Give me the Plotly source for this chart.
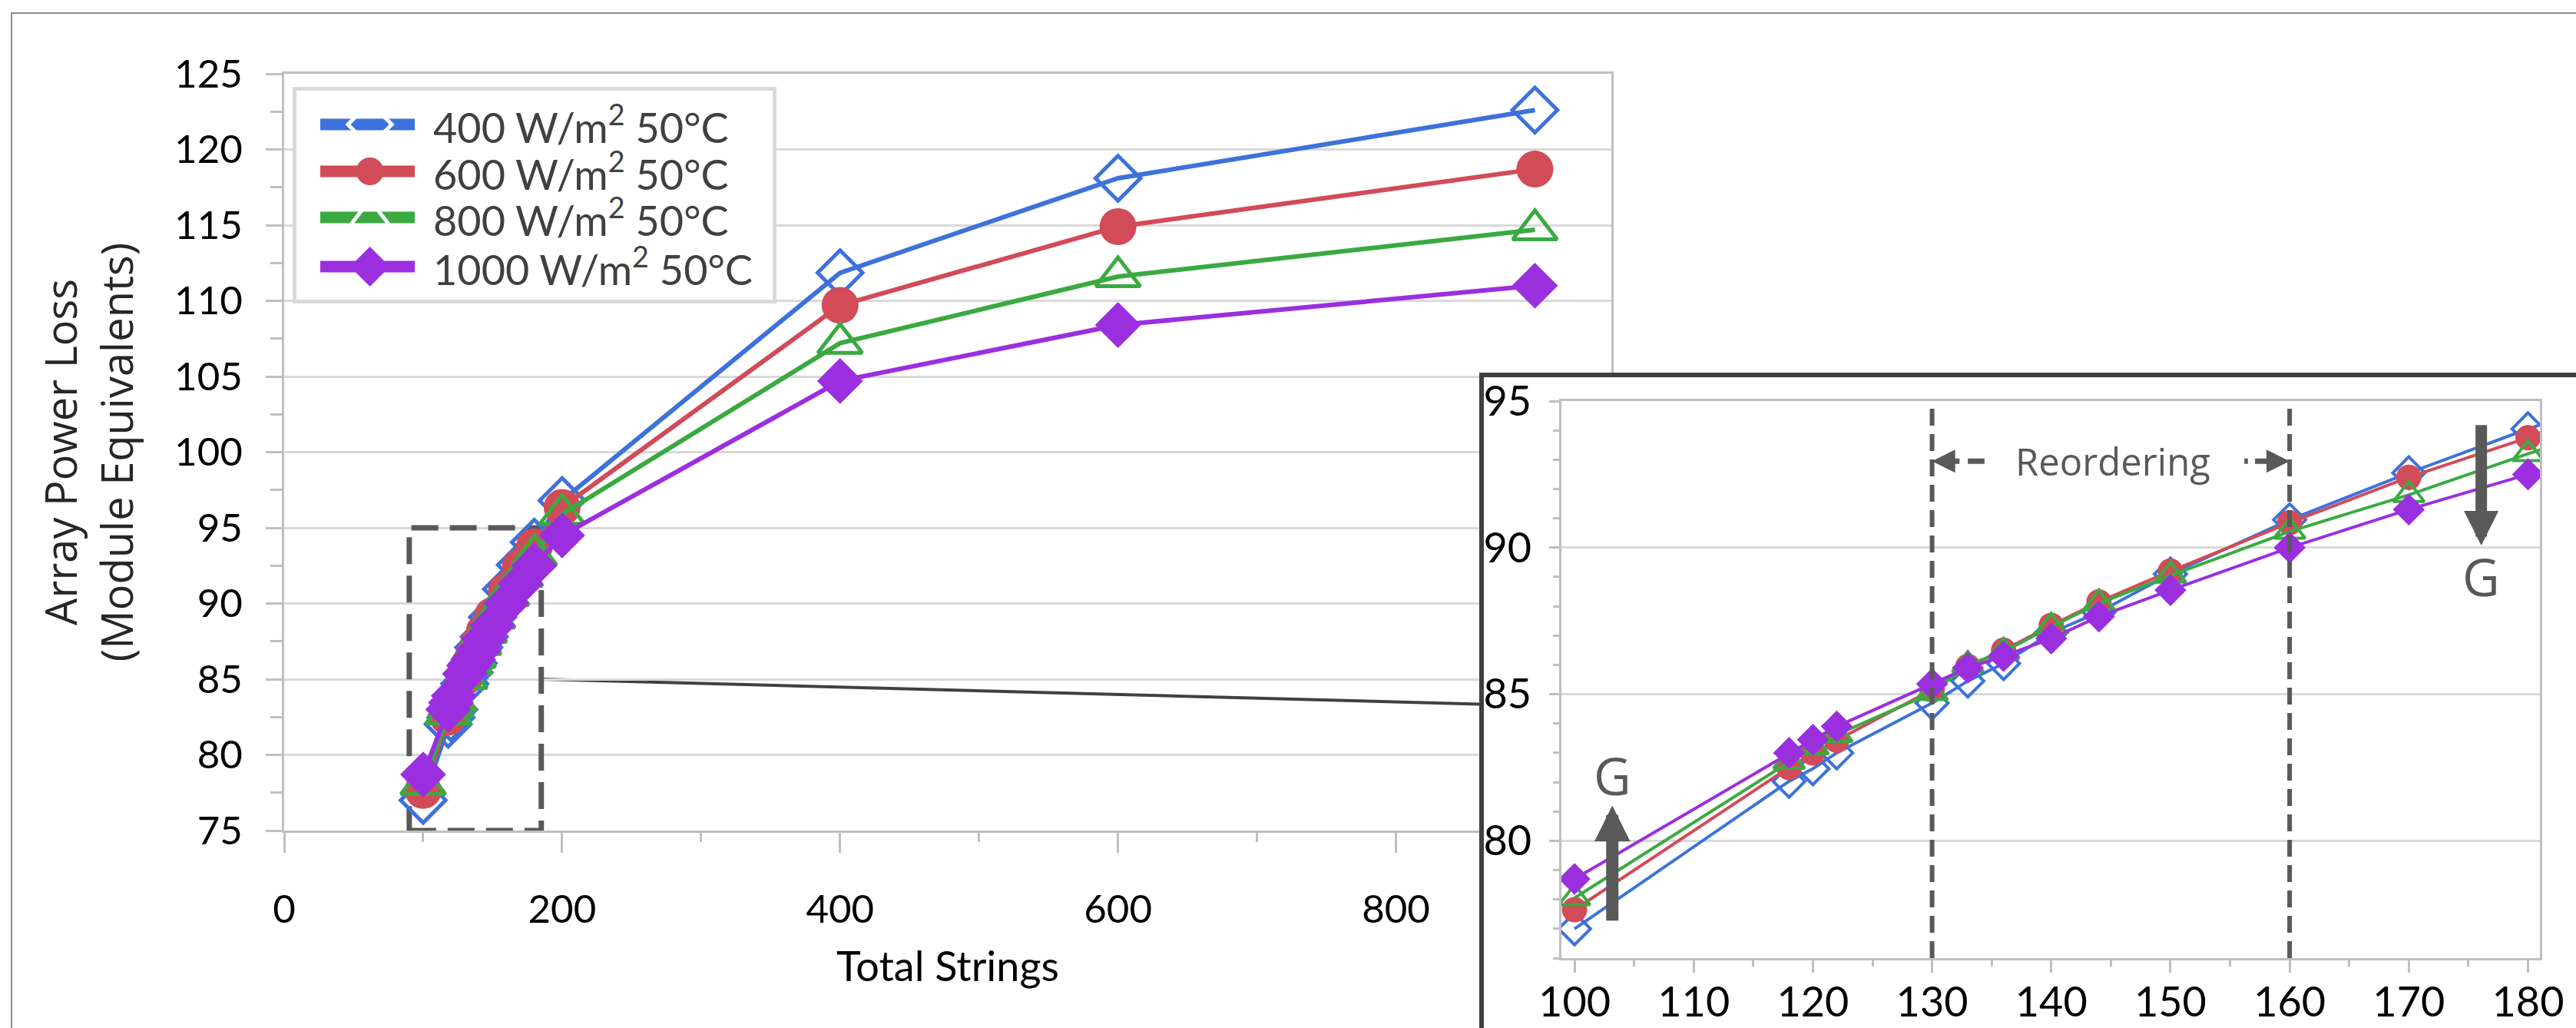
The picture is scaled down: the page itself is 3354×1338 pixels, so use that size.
import plotly.graph_objects as go

# ---------------- data ----------------
strings = [100, 118, 120, 122, 130, 133, 136, 140, 144, 150, 160, 170, 180, 200, 400, 600, 900]
loss_400 = [77.0, 82.03, 82.46, 83.0, 84.7, 85.45, 86.05, 87.1, 87.8, 89.1, 90.95, 92.55, 94.05, 96.8, 111.85, 118.1, 122.6]
loss_600 = [77.65, 82.5, 83.0, 83.43, 85.15, 85.95, 86.5, 87.35, 88.15, 89.2, 90.85, 92.4, 93.75, 96.35, 109.7, 114.9, 118.7]
loss_800 = [78.05, 82.7, 83.2, 83.62, 85.05, 86.0, 86.45, 87.3, 88.1, 89.05, 90.55, 91.8, 93.2, 95.9, 107.2, 111.6, 114.7]
loss_1000 = [78.7, 83.0, 83.45, 83.9, 85.35, 85.9, 86.3, 86.9, 87.65, 88.55, 90.0, 91.3, 92.5, 94.5, 104.7, 108.4, 111.0]

series_names = ["400 W/m<sup>2</sup> 50°C", "600 W/m<sup>2</sup> 50°C",
                "800 W/m<sup>2</sup> 50°C", "1000 W/m<sup>2</sup> 50°C"]
series_values = [loss_400, loss_600, loss_800, loss_1000]

main_x_ticks = [0, 200, 400, 600, 800]
main_y_ticks = [75, 80, 85, 90, 95, 100, 105, 110, 115, 120, 125]
inset_x_ticks = [100, 110, 120, 130, 140, 150, 160, 170, 180]
inset_y_ticks = [80, 85, 90, 95]

reorder_bounds = [130, 160]
zoom_box_x = [90, 185]
zoom_box_y = [75, 95]

# ---------------- styles ----------------
colors = ["#3d72dc", "#d24b58", "#3aaa40", "#9b2fe0"]
symbols = ["diamond-open", "circle", "triangle-up-open", "diamond"]
main_sizes = [45, 48, 50, 46]
inset_sizes = [32, 33, 35, 32]
legend_sizes = [44, 36, 46, 40]

AX = "#bfbfbf"
GRID = "#d9d9d9"
DARK = "#595959"
TICKFONT = dict(family="Lato, Liberation Sans, sans-serif", size=51, color="black")
INSETFONT = dict(family="Liberation Sans Narrow, Lato, sans-serif", size=54, color="black")

fig = go.Figure()

# zoom box on main chart
fig.add_trace(go.Scatter(
    x=[zoom_box_x[0], zoom_box_x[1], zoom_box_x[1], zoom_box_x[0], zoom_box_x[0]],
    y=[zoom_box_y[0], zoom_box_y[0], zoom_box_y[1], zoom_box_y[1], zoom_box_y[0]],
    mode="lines", line=dict(color=DARK, width=7, dash="35px,15px"),
    cliponaxis=False, showlegend=False, hoverinfo="skip", xaxis="x", yaxis="y"))

# main chart series
for vals, c, s, ms in zip(series_values, colors, symbols, main_sizes):
    open_ = s.endswith("open")
    fig.add_trace(go.Scatter(
        x=strings, y=vals, mode="lines+markers",
        line=dict(color=c, width=6),
        marker=dict(symbol=s, size=ms, color=c,
                    line=dict(color=c, width=5 if open_ else 0)),
        showlegend=False, xaxis="x", yaxis="y"))

# custom legend (x2/y2)
legend_rows = [228, 167, 107, 43]
for name, c, s, ms, yc in zip(series_names, colors, symbols, legend_sizes, legend_rows):
    open_ = s.endswith("open")
    fig.add_trace(go.Scatter(x=[31, 154], y=[yc, yc], mode="lines",
                             line=dict(color=c, width=15), showlegend=False,
                             hoverinfo="skip", xaxis="x2", yaxis="y2"))
    fig.add_trace(go.Scatter(x=[95.6], y=[yc], mode="markers",
                             marker=dict(symbol=s, size=ms, color=c if not open_ else "white",
                                         line=dict(color=c, width=5 if open_ else 0)),
                             showlegend=False, hoverinfo="skip", xaxis="x2", yaxis="y2"))
    fig.add_annotation(x=176, y=yc, xref="x2", yref="y2", text=name, showarrow=False,
                       xanchor="left", yanchor="middle",
                       font=dict(family="Lato, Liberation Sans, sans-serif", size=54, color="#404040"))

# frame subplot placeholder (x3/y3)
fig.add_trace(go.Scatter(x=[None], y=[None], showlegend=False, xaxis="x3", yaxis="y3"))

# inset series (x4/y4)
for vals, c, s, ms in zip(series_values, colors, symbols, inset_sizes):
    open_ = s.endswith("open")
    fig.add_trace(go.Scatter(
        x=strings, y=vals, mode="lines+markers",
        line=dict(color=c, width=4),
        marker=dict(symbol=s, size=ms, color=c,
                    line=dict(color=c, width=4 if open_ else 0)),
        showlegend=False, xaxis="x4", yaxis="y4"))

# ---------------- shapes ----------------
shapes = []
shapes.append(dict(type="rect", xref="paper", yref="paper", x0=15/3354, x1=1.02,
                   y0=-0.05, y1=1-17/1338, line=dict(color="#8c8c8c", width=2), layer="below"))
shapes.append(dict(type="line", xref="x", yref="y", x0=zoom_box_x[1], y0=85, x1=870, y1=83.33,
                   line=dict(color="#404040", width=4), layer="below"))
for xb in reorder_bounds:
    shapes.append(dict(type="line", xref="x4", yref="y4 domain", x0=xb, x1=xb, y0=0, y1=1,
                       line=dict(color=DARK, width=6, dash="22px,11px"), layer="above"))
shapes.append(dict(type="line", xref="x4", yref="y4", x0=133.0, x1=134.4, y0=92.95, y1=92.95,
                   line=dict(color=DARK, width=7), layer="above"))
shapes.append(dict(type="line", xref="x4", yref="y4", x0=156.2, x1=156.5, y0=92.95, y1=92.95,
                   line=dict(color=DARK, width=7), layer="above"))
fig.update_layout(shapes=shapes)

# ---------------- annotations ----------------
fig.add_annotation(x=145.2, y=92.95, xref="x4", yref="y4", text="Reordering", showarrow=False,
                   font=dict(family="Open Sans, sans-serif", size=49, color=DARK))
fig.add_annotation(x=130, y=92.95, ax=132.4, ay=92.95, xref="x4", yref="y4", axref="x4", ayref="y4",
                   text="", showarrow=True, arrowhead=2, arrowwidth=7, arrowsize=0.86, arrowcolor=DARK)
fig.add_annotation(x=160, y=92.95, ax=157.0, ay=92.95, xref="x4", yref="y4", axref="x4", ayref="y4",
                   text="", showarrow=True, arrowhead=2, arrowwidth=7, arrowsize=0.86, arrowcolor=DARK)
fig.add_annotation(x=103.17, y=81.2, ax=103.17, ay=77.24, xref="x4", yref="y4", axref="x4", ayref="y4",
                   text="", showarrow=True, arrowhead=2, arrowwidth=16, arrowsize=0.58, arrowcolor=DARK)
fig.add_annotation(x=103.17, y=82.25, xref="x4", yref="y4", text="G", showarrow=False,
                   font=dict(family="Open Sans, sans-serif", size=67, color=DARK))
fig.add_annotation(x=176.08, y=90.07, ax=176.08, ay=94.22, xref="x4", yref="y4", axref="x4", ayref="y4",
                   text="", showarrow=True, arrowhead=2, arrowwidth=15, arrowsize=0.6, arrowcolor=DARK)
fig.add_annotation(x=176.08, y=89.02, xref="x4", yref="y4", text="G", showarrow=False,
                   font=dict(family="Open Sans, sans-serif", size=67, color=DARK))

# ---------------- axes ----------------
W, H = 3354, 1338
fig.update_layout(
    width=W, height=H, autosize=False,
    margin=dict(l=0, r=0, t=0, b=0, pad=0, autoexpand=False),
    paper_bgcolor="white", plot_bgcolor="white",
    showlegend=False,
    xaxis=dict(domain=[370/W, 2098/W], range=[0, 955], anchor="y", automargin=False,
               tickmode="array", tickvals=main_x_ticks,
               ticks="outside", ticklen=26, tickwidth=3, tickcolor=AX,
               minor=dict(dtick=100, tick0=0, ticks="outside", ticklen=12, tickwidth=3,
                          tickcolor=AX, showgrid=False),
               showline=True, linecolor=AX, linewidth=3, mirror=True,
               showgrid=False, zeroline=False, tickfont=TICKFONT, ticklabelstandoff=30,
               title=dict(text="Total Strings", standoff=28,
                          font=dict(family="Lato, Liberation Sans, sans-serif", size=54, color="black"))),
    yaxis=dict(domain=[1-1081/H, 1-96/H], range=[75, 125], anchor="x", automargin=False,
               tickmode="array", tickvals=main_y_ticks,
               ticks="outside", ticklen=21, tickwidth=3, tickcolor=AX,
               minor=dict(dtick=2.5, tick0=0, ticks="outside", ticklen=15, tickwidth=3,
                          tickcolor=AX, showgrid=False),
               showline=True, linecolor=AX, linewidth=3, mirror=True,
               showgrid=True, gridcolor=GRID, gridwidth=3, zeroline=False,
               tickfont=TICKFONT, ticklabelstandoff=20,
               title=dict(text="Array Power Loss<br>(Module Equivalents)", standoff=36,
                          font=dict(family="Open Sans, sans-serif", size=56, color="#262626"))),
    xaxis2=dict(domain=[386/W, 1006/W], range=[0, 620], anchor="y2", automargin=False,
                showline=True, linecolor=GRID, linewidth=5, mirror=True,
                showgrid=False, zeroline=False, showticklabels=False, ticks="", fixedrange=True),
    yaxis2=dict(domain=[1-390/H, 1-118/H], range=[0, 272], anchor="x2", automargin=False,
                showline=True, linecolor=GRID, linewidth=5, mirror=True,
                showgrid=False, zeroline=False, showticklabels=False, ticks="", fixedrange=True),
    xaxis3=dict(domain=[1932/W, 1.0], range=[0, 1], anchor="y3", side="top", automargin=False,
                showline=True, linecolor="#404040", linewidth=6, mirror=False,
                showgrid=False, zeroline=False, showticklabels=False, ticks="", fixedrange=True),
    yaxis3=dict(domain=[0.0, 1-491/H], range=[0, 1], anchor="x3", side="left", automargin=False,
                showline=True, linecolor="#404040", linewidth=6, mirror=False,
                showgrid=False, zeroline=False, showticklabels=False, ticks="", fixedrange=True),
    xaxis4=dict(domain=[2033/W, 3307/W], range=[98.9, 181], anchor="y4", automargin=False,
                tickmode="array", tickvals=inset_x_ticks,
                ticks="outside", ticklen=16, tickwidth=3, tickcolor=AX,
                minor=dict(dtick=5, tick0=0, ticks="outside", ticklen=8, tickwidth=3,
                           tickcolor=AX, showgrid=False),
                showline=True, linecolor=AX, linewidth=3, mirror=True,
                showgrid=False, zeroline=False, tickfont=INSETFONT, ticklabelstandoff=-8),
    yaxis4=dict(domain=[1-1247/H, 1-522/H], range=[76, 95], anchor="x4", automargin=False,
                tickmode="array", tickvals=inset_y_ticks,
                ticks="outside", ticklen=13, tickwidth=3, tickcolor=AX,
                minor=dict(dtick=1, tick0=0, ticks="outside", ticklen=8, tickwidth=3,
                           tickcolor=AX, showgrid=False),
                showline=True, linecolor=AX, linewidth=3, mirror=True,
                showgrid=True, gridcolor=GRID, gridwidth=3, zeroline=False,
                tickfont=INSETFONT, ticklabelstandoff=12),
)

fig.write_html("out.html")
